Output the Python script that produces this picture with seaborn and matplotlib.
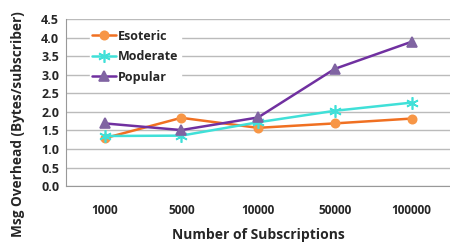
import numpy as np
import matplotlib.pyplot as plt
import pandas as pd
import seaborn as sns

# values
subscriptions = ["1000", "5000", "10000", "50000", "100000"]
esoteric = [1.29, 1.84, 1.57, 1.69, 1.82]
moderate = [1.35, 1.36, 1.72, 2.03, 2.25]
popular = [1.69, 1.51, 1.85, 3.16, 3.89]
y_ticks = [0.0, 0.5, 1.0, 1.5, 2.0, 2.5, 3.0, 3.5, 4.0, 4.5]

series = {"Esoteric": esoteric, "Moderate": moderate, "Popular": popular}
rows = []
for name, vals in series.items():
    for i, (cat, v) in enumerate(zip(subscriptions, vals)):
        rows.append({"pos": i, "Subscriptions": cat, "series": name, "overhead": v})
df = pd.DataFrame(rows)

sns.set_style("white")
plt.rcParams["font.family"] = ["Open Sans", "DejaVu Sans"]

line_colors = {"Esoteric": "#F07022", "Moderate": "#40E0D8", "Popular": "#7030A0"}
marker_colors = {"Esoteric": "#F79646", "Moderate": "#40E0D8", "Popular": "#8064A2"}
markers = {"Esoteric": "o", "Moderate": (6, 2, 0), "Popular": "^"}
msizes = {"Esoteric": 6, "Moderate": 9, "Popular": 7}

fig = plt.figure(figsize=(4.5, 2.42), dpi=100)
ax = fig.add_axes([0.147, 0.231, 0.853, 0.690])

for name in series:
    sub = df[df["series"] == name]
    sns.lineplot(data=sub, x="pos", y="overhead", ax=ax, color=line_colors[name],
                 linewidth=1.8, marker=markers[name], markersize=msizes[name],
                 markerfacecolor=marker_colors[name], markeredgecolor=marker_colors[name],
                 markeredgewidth=1.2, label=name)

ax.set_ylim(0, 4.5)
ax.set_xlim(-0.5, -0.5 + 384 / 78)
ax.set_yticks(y_ticks)
ax.set_yticklabels([f"{t:.1f}" for t in y_ticks], fontweight="bold", fontsize=9)
ax.yaxis.grid(True, color="#BBBBBB", linewidth=1.0)
ax.set_axisbelow(True)

ax.set_xticks(np.arange(len(subscriptions)))
ax.set_xticklabels(subscriptions, fontweight="bold", fontsize=8.5)
ax.set_xticks(np.arange(len(subscriptions) + 1) - 0.5, minor=True)
ax.tick_params(axis="x", which="major", length=0, pad=13)
ax.tick_params(axis="x", which="minor", length=4, color="#999999", direction="out")
ax.tick_params(axis="y", length=4, color="#999999", direction="out", pad=1)

for s in ["top", "right"]:
    ax.spines[s].set_visible(False)
for s in ["left", "bottom"]:
    ax.spines[s].set_color("#999999")

ax.set_xlabel("Number of Subscriptions", fontweight="bold", fontsize=10, labelpad=8)
ax.set_ylabel("Msg Overhead (Bytes/subscriber)", fontweight="bold", fontsize=9.8)
ax.yaxis.set_label_coords(-0.107, 0.37)

leg = ax.legend(loc="upper left", bbox_to_anchor=(0.045, 0.99), frameon=True,
                fontsize=9, handlelength=1.9, handletextpad=0.15, labelspacing=0.6,
                borderpad=0.2)
leg.get_frame().set_facecolor("white")
leg.get_frame().set_edgecolor("white")
leg.get_frame().set_alpha(1)
for t in leg.get_texts():
    t.set_fontweight("bold")

fig.savefig("out.png", dpi=100)
